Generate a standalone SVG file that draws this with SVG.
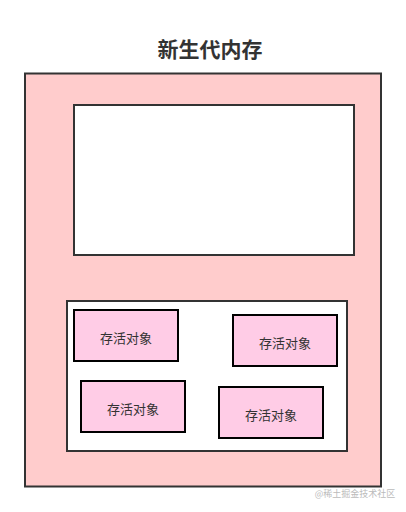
<svg xmlns="http://www.w3.org/2000/svg" width="406" height="512" viewBox="0 0 406 512">
<style>
.t{font-family:"Noto Sans CJK SC","Noto Sans",sans-serif;fill:#333;}
.obj rect{fill:#FFCCE6;stroke:#000;stroke-width:2;}
.obj text{font-family:"Noto Sans CJK SC","Noto Sans",sans-serif;font-size:13px;fill:#333;text-anchor:middle;dominant-baseline:central;}
</style>
<rect width="406" height="512" fill="#fff"/>
<text class="t" x="210" y="48" font-size="21" font-weight="bold" text-anchor="middle" dominant-baseline="central">新生代内存</text>
<g id="young-gen">
<rect x="25" y="73.5" width="356" height="413" fill="#FFCCCC" stroke="#333" stroke-width="2"/>
</g>
<g id="eden">
<rect x="74" y="105" width="280" height="150" fill="#fff" stroke="#333" stroke-width="2"/>
</g>
<g id="survivor">
<rect x="67" y="301" width="280" height="150" fill="#fff" stroke="#333" stroke-width="2"/>
</g>
<g id="obj1" class="obj"><rect x="74" y="310" width="104" height="51"/><text x="126" y="337">存活对象</text></g>
<g id="obj2" class="obj"><rect x="233" y="315" width="104" height="51"/><text x="285" y="342">存活对象</text></g>
<g id="obj3" class="obj"><rect x="81" y="381" width="104" height="51"/><text x="133" y="408">存活对象</text></g>
<g id="obj4" class="obj"><rect x="219" y="387" width="104" height="51"/><text x="271" y="414">存活对象</text></g>
<g id="connectors"></g>
<text x="355" y="493" font-family="Noto Sans CJK SC,sans-serif" font-size="9" fill="#bbb" text-anchor="middle" dominant-baseline="central">@稀土掘金技术社区</text>
</svg>
